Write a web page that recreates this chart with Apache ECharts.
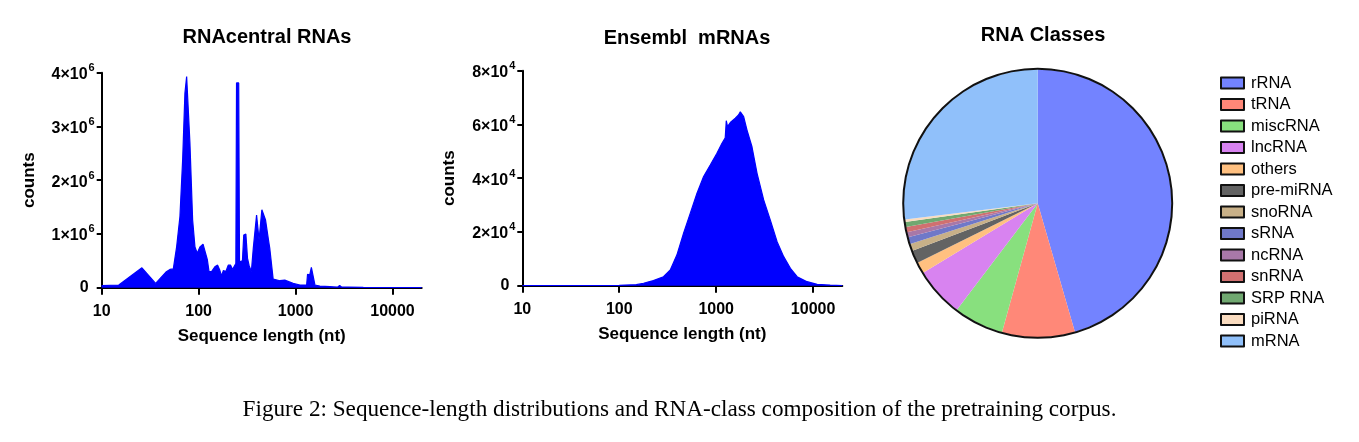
<!DOCTYPE html>
<html>
<head>
<meta charset="utf-8">
<script src="https://cdn.jsdelivr.net/npm/echarts@6/dist/echarts.min.js"></script>
<style>
  html, body { margin: 0; padding: 0; background: #fff; }
  #main { width: 1359px; height: 442px; }
</style>
</head>
<body>
<div id="main"></div>
<script>
// RNAcentral length histogram (nt -> counts)
var rcLen = [10, 15, 26, 36, 46, 50.6, 54.8, 59.3, 64.1, 68.4, 72.2, 75.2, 77.6, 81.3, 86.7, 91.6, 96.8,
    103.3, 111, 115, 123, 128, 136, 147, 157, 165, 172, 180, 191, 202, 213, 224, 233, 242, 246, 259, 264,
    283, 292, 307, 319, 332, 350, 366, 380, 396, 411, 420, 435, 449, 470, 490, 509, 525, 542, 565, 587,
    689, 774, 805, 943, 1109, 1300, 1329, 1400, 1455, 1510, 1585, 1780, 2260, 2700, 2850, 3000, 3500, 5000, 20000];
var rcCnt = [0.04e6, 0.05e6, 0.37e6, 0.08e6, 0.29e6, 0.34e6, 0.35e6, 0.76e6, 1.32e6, 2.38e6, 3.62e6, 3.93e6, 3.90e6, 2.69e6, 1.26e6, 0.76e6, 0.64e6,
    0.76e6, 0.81e6, 0.81e6, 0.52e6, 0.30e6, 0.30e6, 0.39e6, 0.42e6, 0.33e6, 0.22e6, 0.32e6, 0.30e6, 0.42e6, 0.42e6, 0.34e6, 0.40e6, 0.45e6, 3.81e6, 3.81e6, 0.48e6,
    0.50e6, 0.98e6, 1.00e6, 0.55e6, 0.41e6, 0.30e6, 0.73e6, 0.73e6, 1.35e6, 1.37e6, 0.89e6, 0.89e6, 1.45e6, 1.48e6, 1.26e6, 1.29e6, 0.89e6, 0.73e6, 0.73e6, 0.16e6,
    0.13e6, 0.14e6, 0.11e6, 0.08e6, 0.05e6, 0.05e6, 0.25e6, 0.24e6, 0.38e6, 0.39e6, 0.05e6, 0.03e6, 0.02e6, 0.01e6, 0.04e6, 0.01e6, 0.01e6, 0.005e6, 0.003e6];

// Ensembl mRNA length histogram
var ensLen = [10, 100, 150, 178, 225, 286, 336, 393, 461, 540, 634, 742, 869, 1018, 1148, 1240, 1271, 1310, 1400,
    1575, 1700, 1774, 1840, 1920, 2080, 2340, 2640, 3090, 3620, 4250, 4970, 5830, 6840, 8670, 11000, 15000, 20000];
var ensCnt = [0, 100, 400, 900, 1900, 3350, 5840, 11400, 19500, 26900, 34400, 40600, 44900, 49300, 53000, 55000, 61400, 59200, 60700,
    62300, 63500, 64700, 64000, 62900, 57900, 51700, 41800, 31900, 24400, 16400, 10800, 6470, 3350, 1490, 520, 200, 50];

// RNA classes (% of corpus)
var classNames = ['rRNA', 'tRNA', 'miscRNA', 'lncRNA', 'others', 'pre-miRNA', 'snoRNA', 'sRNA', 'ncRNA', 'snRNA', 'SRP RNA', 'piRNA', 'mRNA'];
var classPct = [45.53, 8.78, 6.03, 5.99, 1.38, 1.53, 0.86, 0.83, 0.61, 0.63, 0.63, 0.28, 26.94];
var classColors = ['#7383ff', '#ff8878', '#88e07e', '#d883f0', '#ffc080', '#636363', '#c8b088', '#6f78c8', '#a878a8', '#d07070', '#70a870', '#fadcc0', '#90c0fa'];

var xTicks = [10, 100, 1000, 10000];

var font = '"Liberation Sans", Arial, sans-serif';

function pairs(xs, ys) {
    return xs.map(function (x, i) { return [x, ys[i]]; });
}

function supLabel(exp) {
    return function (v) {
        if (v === 0) return '{z|0}';
        return '{m|' + Math.round(v / Math.pow(10, exp)) + '×10}{s|' + exp + '}';
    };
}

function xAxisOpt(idx) {
    return {
        type: 'log', logBase: 10, gridIndex: idx, min: 10, max: 20000,
        name: 'Sequence length (nt)', nameLocation: 'middle', nameGap: 40,
        nameTextStyle: { fontFamily: font, fontWeight: 'bold', fontSize: 17, color: '#000' },
        axisLine: { lineStyle: { color: '#000', width: 2 } },
        axisTick: { length: 7, lineStyle: { color: '#000', width: 2 }, customValues: xTicks },
        axisLabel: {
            margin: 16, fontFamily: font, fontWeight: 'bold', fontSize: 16, color: '#000', customValues: xTicks,
            formatter: function (v) { return String(Math.round(v)); }
        },
        splitLine: { show: false }, minorTick: { show: false }
    };
}

function yAxisOpt(idx, max, step, exp) {
    return {
        type: 'value', gridIndex: idx, min: 0, max: max, interval: step,
        name: 'counts', nameLocation: 'middle', nameGap: 64,
        nameTextStyle: { fontFamily: font, fontWeight: 'bold', fontSize: 17, color: '#000' },
        axisLine: { show: true, lineStyle: { color: '#000', width: 2 } },
        axisTick: { show: true, length: 5, lineStyle: { color: '#000', width: 2 } },
        axisLabel: {
            margin: 7, fontFamily: font, fontWeight: 'bold', fontSize: 16, color: '#000',
            formatter: supLabel(exp),
            rich: {
                m: { fontFamily: font, fontWeight: 'bold', fontSize: 16, color: '#000', verticalAlign: 'bottom', padding: [4, 0, 0, 0] },
                s: { fontFamily: font, fontWeight: 'bold', fontSize: 11, color: '#000', verticalAlign: 'top', padding: [0, 0, 0, 1] },
                z: { fontFamily: font, fontWeight: 'bold', fontSize: 16, color: '#000', padding: [0, 6, 0, 0] }
            }
        },
        splitLine: { show: false }
    };
}

function histSeries(idx, data) {
    return {
        type: 'line', xAxisIndex: idx, yAxisIndex: idx, data: data,
        showSymbol: false, symbol: 'none',
        lineStyle: { color: '#0000ff', width: 1.2 },
        areaStyle: { color: '#0000ff', opacity: 1 },
        z: 3
    };
}

var chart = echarts.init(document.getElementById('main'), null, { renderer: 'canvas' });

var option = {
    animation: false,
    backgroundColor: '#fff',
    title: [
        { text: 'RNAcentral RNAs', left: 262, top: 22, textAlign: 'center',
          textStyle: { fontFamily: font, fontWeight: 'bold', fontSize: 20, color: '#000' } },
        { text: 'Ensembl  mRNAs', left: 682, top: 23, textAlign: 'center',
          textStyle: { fontFamily: font, fontWeight: 'bold', fontSize: 20, color: '#000' } },
        { text: 'RNA Classes', left: 1038, top: 20, textAlign: 'center',
          textStyle: { fontFamily: font, fontWeight: 'bold', fontSize: 20, color: '#000' } }
    ],
    grid: [
        { left: 101.7, top: 72.7, width: 320, height: 215 },
        { left: 522.3, top: 70.7, width: 320, height: 215 }
    ],
    xAxis: [xAxisOpt(0), xAxisOpt(1)],
    yAxis: [yAxisOpt(0, 4e6, 1e6, 6), yAxisOpt(1, 8e4, 2e4, 4)],
    legend: {
        data: classNames,
        orient: 'vertical', left: 1215, top: 69.5,
        icon: 'rect', itemWidth: 23, itemHeight: 11, itemGap: 4.5,
        itemStyle: { borderColor: '#111', borderWidth: 2 },
        textStyle: { fontFamily: font, fontSize: 16.5, lineHeight: 17, color: '#000', padding: [0, 0, 0, 2] },
        selectedMode: false
    },
    series: [
        histSeries(0, pairs(rcLen, rcCnt)),
        histSeries(1, pairs(ensLen, ensCnt)),
        {
            type: 'pie', center: [1037.7, 203.3], radius: 134, startAngle: 90,
            color: classColors,
            label: { show: false }, labelLine: { show: false },
            itemStyle: { borderWidth: 0 },
            emphasis: { disabled: true },
            data: classNames.map(function (n, i) { return { name: n, value: classPct[i] }; })
        },
        {
            type: 'pie', center: [1037.7, 203.3], radius: [133.5, 135.5], silent: true,
            label: { show: false }, labelLine: { show: false },
            itemStyle: { color: '#111' },
            data: [{ name: 'outline', value: 1 }]
        }
    ],
    graphic: [{
        type: 'text', left: 'center', top: 398,
        style: {
            text: 'Figure 2: Sequence-length distributions and RNA-class composition of the pretraining corpus.',
            font: '23.2px "Liberation Serif", "Times New Roman", serif', fill: '#000'
        }
    }]
};

chart.setOption(option);
</script>
</body>
</html>
